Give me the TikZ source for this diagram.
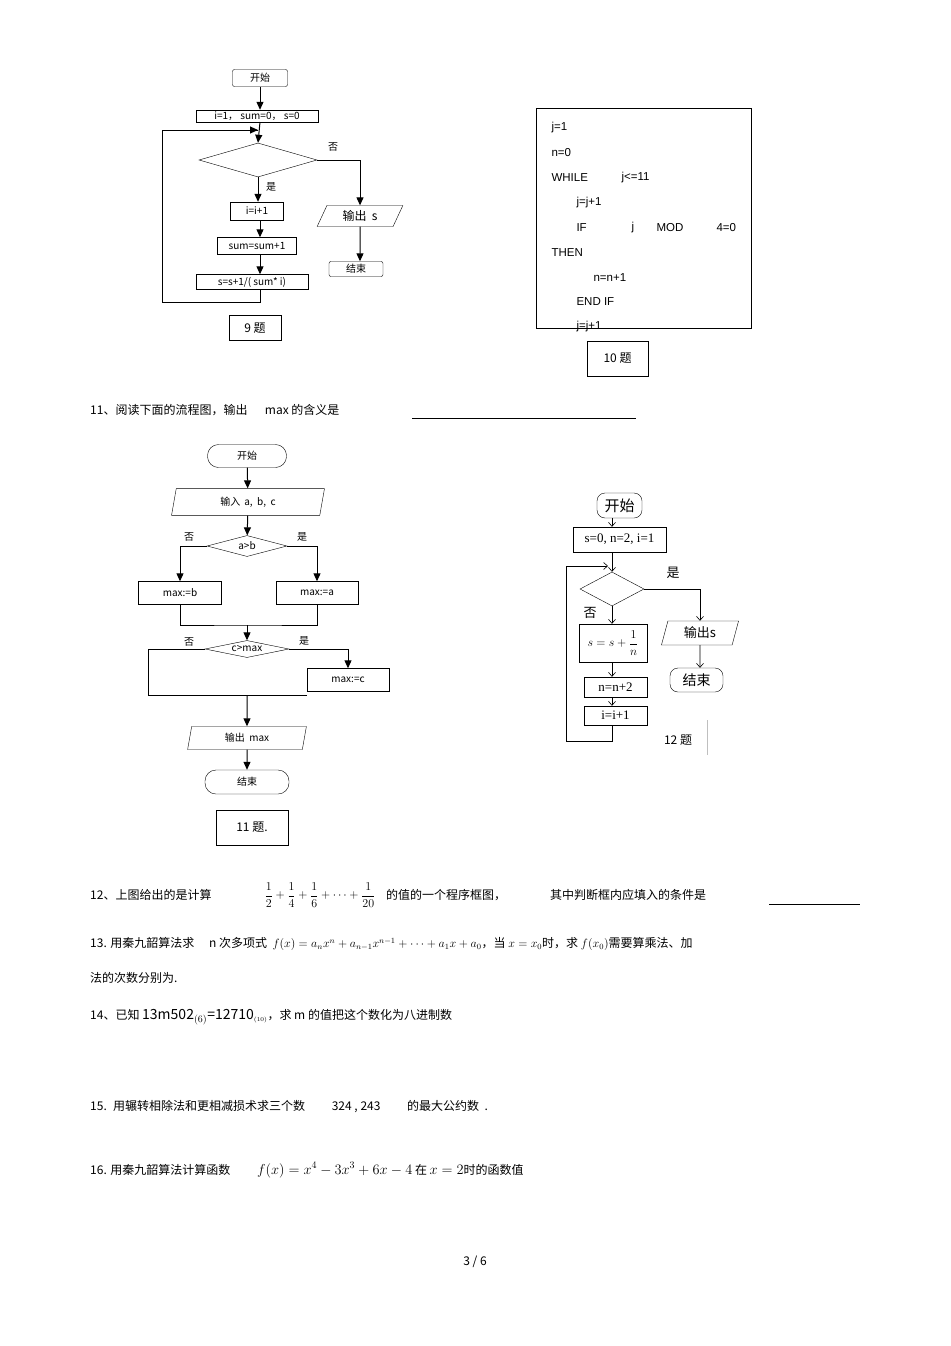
\documentclass[tikz,border=0pt]{standalone}
\usepackage{fontspec}
\setmainfont{Liberation Sans}
\newfontfamily\cjk{Noto Sans CJK SC}
\newfontfamily\serifx{Liberation Serif}
\usetikzlibrary{shapes.geometric,arrows.meta}
\begin{document}
\begin{tikzpicture}[x=1pt,y=-1pt,
 every node/.style={inner sep=0pt,font=\cjk\fontsize{10}{11}\selectfont},
 ar/.style={-{Triangle[length=8pt,width=7pt]},line width=1pt},
 ln/.style={line width=1pt},
 tx/.style={anchor=west,font=\cjk\fontsize{12}{13}\selectfont}]
\useasboundingbox (0,0) rectangle (950,1346);
% ===== chart 9
\node[draw,rounded corners=2pt,minimum width=55pt,minimum height=17pt] (s9) at (260,78) {开始};
\node[draw,minimum width=122pt,minimum height=12pt] (i9) at (257,116) {i=1， sum=0， s=0};
\node[draw,diamond,aspect=3.5,minimum width=118pt,minimum height=34pt,inner sep=0pt] (d9) at (258,160) {};
\node at (333,147) {否};
\node at (271,187) {是};
\node[draw,minimum width=53pt,minimum height=18pt] (a9) at (257,211) {i=i+1};
\node[draw,minimum width=79pt,minimum height=17pt] (b9) at (257,246) {sum=sum+1};
\node[draw,minimum width=112pt,minimum height=15pt] (c9) at (252,282) {s=s+1/( sum* i)};
\node[draw,trapezium,trapezium left angle=65,trapezium right angle=115,minimum width=86pt,minimum height=19pt,inner sep=0pt,font=\cjk\fontsize{12}{13}\selectfont] (o9) at (360,216) {输出 \ s};
\node[draw,rounded corners=2pt,minimum width=54pt,minimum height=15pt] (e9) at (356,269) {结束};
\node[draw,minimum width=52pt,minimum height=25pt,font=\cjk\fontsize{12}{13}\selectfont] (q9) at (255,328) {9 题};
\draw[ar] (s9) -- (i9.north -| s9);
\draw[ar] (260,122) -- (d9.north);
\draw[ar] (d9.south) -- (a9.north -| d9);
\draw[ar] (a9.south -| 260,0) -- (b9.north -| 260,0);
\draw[ar] (b9.south -| 260,0) -- (c9.north -| 260,0);
\draw[ln] (c9.south -| 260,0) |- (162,302) |- (258,130);
\draw[ar] (162,130) -- (258,130);
\draw[ar] (d9.east) -| (o9.north);
\draw[ar] (o9.south) -- (e9.north -| o9);
% ===== box 10
\node[draw,minimum width=215pt,minimum height=220pt] (p10) at (643.5,218) {};
\begin{scope}[every node/.style={anchor=west,font=\fontsize{11.5}{12}\selectfont}]
\node (l1) at (548,128) {j=1};
\node (l2) at (548,153) {n=0};
\node (l3) at (548,178) {WHILE};
\node (l3b) at (618,178) {j<=11};
\node (l4) at (573,203) {j=j+1};
\node (l5) at (573,228) {IF};
\node (l5b) at (628,228) {j};
\node (l5c) at (653,228) {MOD};
\node (l5d) at (713,228) {4=0};
\node (l6) at (548,253) {THEN};
\node (l7) at (590,278) {n=n+1};
\node (l8) at (573,302) {END IF};
\node (l9) at (573,327) {j=j+1};
\end{scope}
\node[draw,minimum width=61pt,minimum height=35pt,font=\cjk\fontsize{12}{13}\selectfont] (q10) at (617.5,358.5) {10 题};
% ===== question 11 line
\node[tx] (t11) at (90,410) {11、阅读下面的流程图，输出 \quad\ max 的含义是};
\draw (412,418) -- (636,418);
% ===== chart 11
\node[draw,rounded corners=11pt,minimum width=79pt,minimum height=23pt] (s11) at (247,456) {开始};
\node[draw,trapezium,trapezium left angle=80,trapezium right angle=100,minimum width=153pt,minimum height=24pt] (in11) at (248,502) {输入 \,a, \ b, \ c};
\node[draw,diamond,aspect=3.8,minimum width=80pt,minimum height=21pt] (d11) at (247,546) {a>b};
\node at (189,537) {否};
\node at (302,537) {是};
\node[draw,minimum width=83pt,minimum height=23pt] (mb) at (180,593) {max:=b};
\node[draw,minimum width=82pt,minimum height=23pt] (ma) at (317,593) {max:=a};
\node[draw,diamond,aspect=5,minimum width=84pt,minimum height=17pt] (d11b) at (247,649) {c>max};
\node at (189,642) {否};
\node at (304,641) {是};
\node[draw,minimum width=82pt,minimum height=23pt] (mc) at (348,680) {max:=c};
\node[draw,trapezium,trapezium left angle=80,trapezium right angle=100,minimum width=113pt,minimum height=23pt] (o11) at (247,738) {输出 \ max};
\node[draw,rounded corners=11pt,minimum width=84pt,minimum height=24pt] (e11) at (247,782) {结束};
\node[draw,minimum width=72pt,minimum height=35pt,font=\cjk\fontsize{12}{13}\selectfont] (q11) at (252,827.5) {11 题.};
\draw[ar] (s11) -- (in11);
\draw[ar] (in11) -- (d11);
\draw[ar] (d11.west) -| (mb.north);
\draw[ar] (d11.east) -| (ma.north);
\draw[ln] (mb.south) |- (247,625) -| (ma.south);
\draw[ar] (247,625) -- (d11b.north);
\draw[ar] (d11b.east) -| (mc.north);
\draw[ln] (d11b.west) -| (148,695) -- (mc.south west |- 0,695);
\draw[ar] (247,695) -- (o11.north);
\draw[ar] (o11) -- (e11);
% ===== chart 12
\begin{scope}[every node/.style={inner sep=0pt,font=\serifx\fontsize{13}{14}\selectfont}, sa/.style={-{Straight Barb[length=4pt,width=7pt]},line width=0.6pt}, sl/.style={line width=0.6pt}]
\node[draw,rounded corners=8pt,minimum width=45pt,minimum height=25pt,font=\cjk\fontsize{15}{16}\selectfont] (s12) at (619.5,505.5) {开始};
\node[draw,minimum width=93pt,minimum height=25pt] (i12) at (619.5,539.5) {s=0, n=2, i=1};
\node[draw,diamond,aspect=1.9,minimum width=64pt,minimum height=34pt] (d12) at (612,589) {};
\node[font=\cjk\fontsize{13}{14}\selectfont] at (590,613) {否};
\node[font=\cjk\fontsize{13}{14}\selectfont] at (673,573) {是};
\node[draw,minimum width=68pt,minimum height=38pt,font=\fontsize{12}{13}\selectfont] (f12) at (613,643) {$\displaystyle s=s+\frac{1}{n}$};
\node[draw,minimum width=63pt,minimum height=20pt] (n12) at (615.5,687) {n=n+2};
\node[draw,minimum width=63pt,minimum height=19pt] (k12) at (615.5,715.5) {i=i+1};
\node[draw,trapezium,trapezium left angle=75,trapezium right angle=105,minimum width=65pt,minimum height=24pt,font=\cjk\fontsize{13}{14}\selectfont] (o12) at (700,633) {输出s};
\node[draw,rounded corners=8pt,minimum width=53pt,minimum height=24pt,font=\cjk\fontsize{14}{15}\selectfont] (e12) at (696.5,680) {结束};
\node[font=\cjk\fontsize{12}{13}\selectfont] (q12) at (678,740) {12 题};
\draw[black!25] (707,720) -- (707,755);
\draw[sa] (s12.south -| 612,0) -- (i12.north -| 612,0);
\draw[sa] (i12.south -| 612,0) -- (d12.north);
\draw[sa] (d12.south) -- (f12.north -| d12);
\draw[sa] (f12.south -| 612,0) -- (n12.north -| 612,0);
\draw[sa] (n12.south -| 612,0) -- (k12.north -| 612,0);
\draw[sl] (k12.south -| 612,0) |- (566,741) |- (606,566);
\draw[sa] (566,566) -- (608,566);
\draw[sa] (d12.east) -| (o12.north);
\draw[sa] (o12.south) -- (e12.north -| o12);
\end{scope}
% ===== text lines
\begin{scope}[every node/.style={inner sep=0pt,font=\cjk\fontsize{12}{13}\selectfont}]
\node[anchor=west] (t12) at (90,895) {12、上图给出的是计算};
\node[font=\fontsize{12}{13}\selectfont] (fr) at (320,895) {$\displaystyle\frac{1}{2}+\frac{1}{4}+\frac{1}{6}+\cdots+\frac{1}{20}$};
\node[anchor=west] (t12b) at (386,895) {的值的一个程序框图，};
\node[anchor=west] (t12c) at (550,895) {其中判断框内应填入的条件是};
\draw (769,904) -- (860,904);
\node[anchor=west] (t13) at (90,944) {13. 用秦九韶算法求 \quad n 次多项式 \ $f(x)=a_nx^n+a_{n-1}x^{n-1}+\cdots+a_1x+a_0$，当 $x=x_0$时，求 $f(x_0)$需要算乘法、加};
\node[anchor=west] (t13b) at (90,978) {法的次数分别为.};
\node[anchor=west] (t14) at (90,1017) {14、已知 {\fontsize{14}{15}\selectfont 13m502$_{(6)}$=12710}$_{\scriptscriptstyle(10)}$，求 m 的值把这个数化为八进制数};
\node[anchor=west] (t15) at (90,1107) {15. \ 用辗转相除法和更相减损术求三个数 \qquad 324 , 243 \qquad 的最大公约数 \ .};
\node[anchor=west] (t16) at (90,1170) {16. 用秦九韶算法计算函数 \qquad {\fontsize{14}{15}\selectfont $f(x)=x^4-3x^3+6x-4$} 在 {\fontsize{14}{15}\selectfont $x=2$}时的函数值};
\node (pg) at (475,1262) {3 / 6};
\end{scope}
\end{tikzpicture}
\end{document}
